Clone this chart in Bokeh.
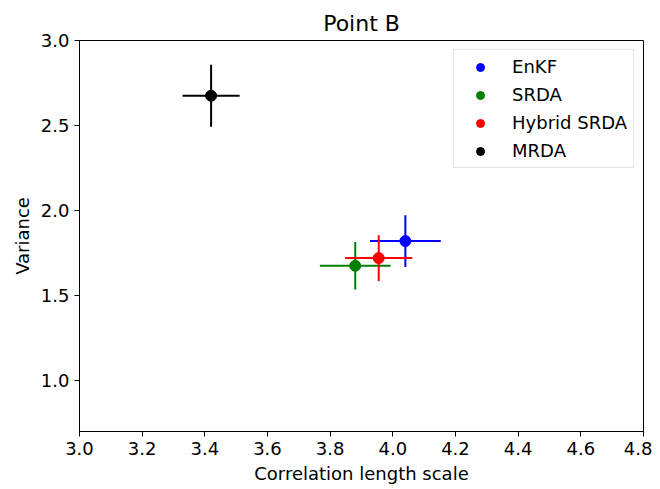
from bokeh.plotting import figure
from bokeh.models import ColumnDataSource, Range1d, FixedTicker, PrintfTickFormatter, Legend, LegendItem
from bokeh.embed import file_html
from bokeh.resources import INLINE

methods = ["EnKF", "SRDA", "Hybrid SRDA", "MRDA"]
colors = ["#0000ff", "#008000", "#ff0000", "#000000"]
length_scale = [4.04, 3.88, 3.955, 3.42]
length_err = [0.113, 0.113, 0.107, 0.091]
variance = [1.82, 1.675, 1.72, 2.675]
variance_err = [0.152, 0.139, 0.135, 0.183]
x_ticks = [3.0, 3.2, 3.4, 3.6, 3.8, 4.0, 4.2, 4.4, 4.6, 4.8]
y_ticks = [1.0, 1.5, 2.0, 2.5, 3.0]

FONT = "DejaVu Sans"

p = figure(width=652, height=486, output_backend="svg", toolbar_location=None,
           x_range=Range1d(3.0, 4.8), y_range=Range1d(0.7, 3.0),
           min_border_left=79, min_border_right=9, min_border_bottom=54, min_border_top=40,
           title="Point B")
p.title.text_font = FONT
p.title.text_font_size = "22px"
p.title.text_font_style = "normal"
p.title.text_color = "black"
p.title.align = "center"
p.title.standoff = 9

p.grid.visible = False
p.outline_line_color = "black"
p.outline_line_width = 1
p.background_fill_color = "white"
p.border_fill_color = "white"

for ax in (p.xaxis[0], p.yaxis[0]):
    ax.major_label_text_font = FONT
    ax.major_label_text_font_size = "18px"
    ax.major_label_text_color = "black"
    ax.axis_label_text_font = FONT
    ax.axis_label_text_font_size = "18px"
    ax.axis_label_text_font_style = "normal"
    ax.axis_label_text_color = "black"
    ax.major_tick_out = 5
    ax.major_tick_in = 0
    ax.minor_tick_out = 0
    ax.minor_tick_in = 0
    ax.axis_line_color = "black"
    ax.major_tick_line_color = "black"
    ax.formatter = PrintfTickFormatter(format="%.1f")

p.xaxis.ticker = FixedTicker(ticks=x_ticks)
p.yaxis.ticker = FixedTicker(ticks=y_ticks)
p.xaxis.axis_label = "Correlation length scale"
p.yaxis.axis_label = "Variance"
p.xaxis.axis_label_standoff = 5
p.yaxis.axis_label_standoff = 5

items = []
for i, m in enumerate(methods):
    x = length_scale[i]
    y = variance[i]
    src = ColumnDataSource(dict(
        x0=[x - length_err[i], x], y0=[y, y - variance_err[i]],
        x1=[x + length_err[i], x], y1=[y, y + variance_err[i]]))
    p.segment(x0="x0", y0="y0", x1="x1", y1="y1", source=src, line_color=colors[i], line_width=2)
    r = p.scatter(x=[x], y=[y], size=11, color=colors[i], marker="circle")
    items.append(LegendItem(label=m, renderers=[r]))

legend = Legend(items=items, location="top_right")
legend.label_text_font = FONT
legend.label_text_font_size = "18px"
legend.label_text_color = "black"
legend.padding = 6
legend.glyph_width = 40
legend.glyph_height = 20
legend.label_height = 20
legend.label_standoff = 12
legend.spacing = 7
legend.margin = 9
legend.border_line_color = "#cccccc"
legend.border_line_width = 1
legend.background_fill_color = "white"
legend.background_fill_alpha = 1.0
p.add_layout(legend, "center")

open("out.html", "w").write(file_html(p, INLINE))
